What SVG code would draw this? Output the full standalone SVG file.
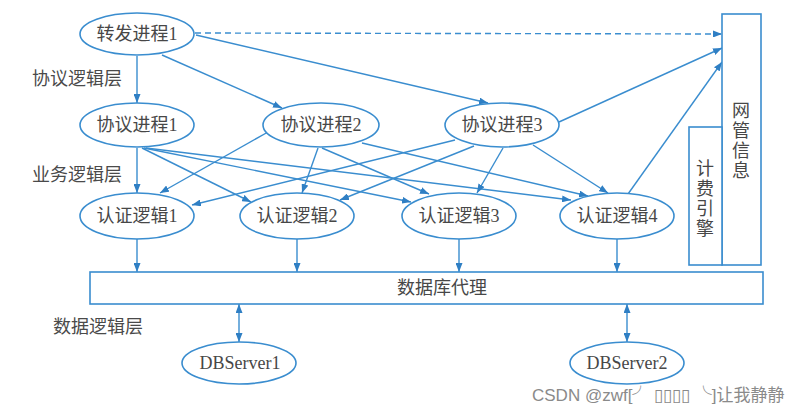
<svg xmlns="http://www.w3.org/2000/svg" width="805" height="414" viewBox="0 0 805 414">
<style>
.n{fill:#ffffff;stroke:#3a8dcf;stroke-width:1.6}
.t{font-family:'Liberation Serif','Noto Sans CJK SC',serif;font-size:18px;fill:#474747;text-anchor:middle;dominant-baseline:central}
.lbl{font-family:'Noto Sans CJK SC',sans-serif;font-size:18px;fill:#4a4a4a;dominant-baseline:central}
.e{fill:none;stroke:#3a8dcf;stroke-width:1.4;marker-end:url(#ah)}
.d{stroke-dasharray:6 4}
.b{marker-start:url(#ah)}
.wm{font-family:'Liberation Sans','Noto Sans CJK SC',sans-serif;font-size:16px;fill:#8a8a8a}
</style>
<defs>
<marker id="ah" markerUnits="userSpaceOnUse" markerWidth="9" markerHeight="7" refX="9" refY="3.5" orient="auto-start-reverse">
<path d="M0,0 L9,3.5 L0,7 z" fill="#2f7fc4"/>
</marker>
</defs>
<rect width="805" height="414" fill="#ffffff"/>

<g id="connectors">
<path class="e" d="M137,56 L137,103"/>
<path class="e" d="M162,55 L282,108"/>
<path class="e" d="M196,35 L488,103"/>
<path class="e d" d="M195,33 L722,34"/>
<path class="e" d="M559,122 L722,48"/>
<path class="e" d="M628,194 L722,62"/>
<path class="e" d="M137,148 L137,193"/>
<path class="e" d="M142,148 L251,202"/>
<path class="e" d="M144,148 L411,202"/>
<path class="e" d="M146,148 L571,200"/>
<path class="e" d="M268,132 L160,193"/>
<path class="e" d="M318,148 L302,193"/>
<path class="e" d="M322,148 L429,194"/>
<path class="e" d="M362,143 L588,196"/>
<path class="e" d="M455,140 L192,205"/>
<path class="e" d="M474,146 L340,200"/>
<path class="e" d="M503,148 L477,193"/>
<path class="e" d="M533,145 L608,193"/>
<path class="e" d="M137,239 L137,272"/>
<path class="e" d="M297,239 L297,272"/>
<path class="e" d="M459,239 L459,272"/>
<path class="e" d="M617,239 L617,272"/>
<path class="e b" d="M239,304 L239,342"/>
<path class="e b" d="M627,304 L627,342"/>
</g>

<g id="fwd1"><ellipse class="n" cx="137" cy="34" rx="57" ry="21"/><text class="t" x="137" y="34">转发进程1</text></g>
<g id="proto1"><ellipse class="n" cx="137" cy="125" rx="57" ry="22"/><text class="t" x="137" y="125">协议进程1</text></g>
<g id="proto2"><ellipse class="n" cx="321" cy="125" rx="58" ry="22"/><text class="t" x="321" y="125">协议进程2</text></g>
<g id="proto3"><ellipse class="n" cx="502" cy="125" rx="57" ry="22"/><text class="t" x="502" y="125">协议进程3</text></g>
<g id="auth1"><ellipse class="n" cx="137" cy="216" rx="57" ry="23"/><text class="t" x="137" y="216">认证逻辑1</text></g>
<g id="auth2"><ellipse class="n" cx="297" cy="216" rx="57" ry="23"/><text class="t" x="297" y="216">认证逻辑2</text></g>
<g id="auth3"><ellipse class="n" cx="459" cy="216" rx="57" ry="23"/><text class="t" x="459" y="216">认证逻辑3</text></g>
<g id="auth4"><ellipse class="n" cx="617" cy="216" rx="57" ry="23"/><text class="t" x="617" y="216">认证逻辑4</text></g>
<g id="dbproxy"><rect class="n" x="90" y="272" width="673" height="32"/><text class="t" x="442" y="288">数据库代理</text></g>
<g id="db1"><ellipse class="n" cx="239" cy="363" rx="57" ry="21"/><text class="t" x="240" y="363">DBServer1</text></g>
<g id="db2"><ellipse class="n" cx="627" cy="363" rx="57" ry="21"/><text class="t" x="627" y="363">DBServer2</text></g>
<g id="netmgmt"><rect class="n" x="722" y="14" width="39" height="251"/>
<text class="t" x="741" y="111">网</text><text class="t" x="741" y="131">管</text><text class="t" x="741" y="151">信</text><text class="t" x="741" y="171">息</text></g>
<g id="billing"><rect class="n" x="689" y="127" width="33" height="138"/>
<text class="t" x="705" y="169">计</text><text class="t" x="705" y="189">费</text><text class="t" x="705" y="209">引</text><text class="t" x="705" y="229">擎</text></g>

<g id="labels">
<text class="lbl" x="32" y="77">协议逻辑层</text>
<text class="lbl" x="32" y="173">业务逻辑层</text>
<text class="lbl" x="53" y="325">数据逻辑层</text>
</g>
<text class="wm" x="532" y="401" style="font-size:17px">CSDN @zwf[╯ ▯▯▯▯ ╰]让我静静</text>
</svg>
